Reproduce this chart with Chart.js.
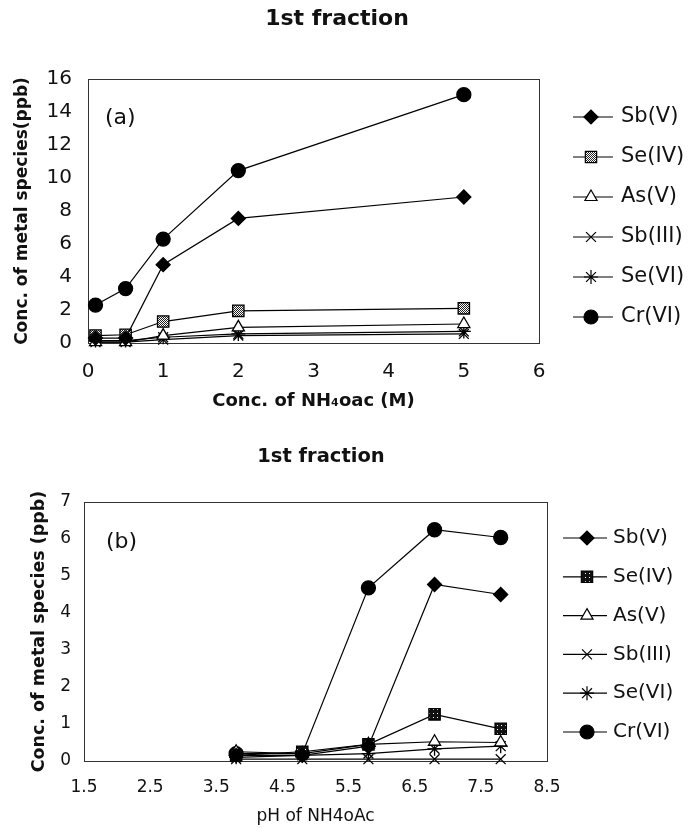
<!DOCTYPE html>
<html>
<head>
<meta charset="utf-8">
<script src="https://cdn.jsdelivr.net/npm/chart.js@4.4.1/dist/chart.umd.min.js"></script>
<style>
    body { margin: 0; background: #fff; width: 690px; height: 828px; position: relative; overflow: hidden; }
    canvas { position: absolute; left: 0; }
    #chartA { top: 0; }
    #chartB { top: 420px; }
</style>
</head>
<body>
<canvas id="chartA" width="690" height="420"></canvas>
<canvas id="chartB" width="690" height="408"></canvas>
<script>
// Species, in legend order
const SPECIES = ['Sb(V)', 'Se(IV)', 'As(V)', 'Sb(III)', 'Se(VI)', 'Cr(VI)'];

// (a) concentration of NH4oAc (M)
const CONC_M = [0.1, 0.5, 1, 2, 5];
const A_SB5 = [0.3, 0.3, 4.75, 7.55, 8.85];
const A_SE4 = [0.45, 0.5, 1.3, 1.95, 2.1];
const A_AS5 = [0.05, 0.05, 0.45, 0.95, 1.15];
const A_SB3 = [0.05, 0.05, 0.2, 0.45, 0.55];
const A_SE6 = [0.15, 0.15, 0.35, 0.55, 0.7];
const A_CR6 = [2.3, 3.3, 6.3, 10.45, 15.05];

// (b) pH of NH4oAc
const PH = [3.8, 4.8, 5.8, 6.8, 7.8];
const B_SB5 = [0.15, 0.15, 0.4, 4.77, 4.5];
const B_SE4 = [0.15, 0.25, 0.45, 1.26, 0.87];
const B_AS5 = [0.25, 0.2, 0.45, 0.52, 0.5];
const B_SB3 = [0.05, 0.05, 0.05, 0.05, 0.05];
const B_SE6 = [0.1, 0.15, 0.2, 0.33, 0.4];
const B_CR6 = [0.2, 0.2, 4.68, 6.25, 6.04];

// Tick labels
const A_X_TICKS = [0, 1, 2, 3, 4, 5, 6];
const B_X_TICKS = ['1.5', '2.5', '3.5', '4.5', '5.5', '6.5', '7.5', '8.5'];

const FONT = '"DejaVu Sans", Verdana, sans-serif';
const INK = '#111';

// Marker style per species
const MARKERS = ['rectRot', 'rect', 'triangle', 'crossRot', 'star', 'circle'];
const RADII = [7, 8, 7, 7, 7, 7];
const FILLS = ['#000', null, '#fff', '#fff', '#000', '#000'];

// Small fill pattern for the Se(IV) squares
function makePattern(target, size, bg, fg, cells) {
    const c = document.createElement('canvas');
    c.width = size; c.height = size;
    const g = c.getContext('2d');
    g.fillStyle = bg;
    g.fillRect(0, 0, size, size);
    g.fillStyle = fg;
    cells.forEach(p => g.fillRect(p[0], p[1], 1, 1));
    return target.getContext('2d').createPattern(c, 'repeat');
}

function buildSets(xs, series, seFill) {
    return series.map((ys, i) => ({
        label: SPECIES[i],
        data: xs.map((x, j) => ({ x: x, y: ys[j] })),
        borderColor: '#000',
        borderWidth: 1.2,
        pointStyle: MARKERS[i],
        pointRadius: RADII[i],
        pointHoverRadius: RADII[i],
        pointBackgroundColor: i === 1 ? seFill : FILLS[i],
        pointBorderColor: '#000',
        pointBorderWidth: 1.3,
        tension: 0,
        clip: false
    }));
}

// Box around the plot area
const framePlugin = {
    id: 'frame',
    beforeDatasetsDraw(chart) {
        const a = chart.chartArea;
        const ctx = chart.ctx;
        ctx.save();
        ctx.strokeStyle = '#333';
        ctx.lineWidth = 1;
        ctx.strokeRect(Math.round(a.left) + 0.5, Math.round(a.top) + 0.5,
            Math.round(a.right - a.left), Math.round(a.bottom - a.top));
        ctx.restore();
    }
};

// Legend on the right: line with marker, then label
const sideLegendPlugin = {
    id: 'sideLegend',
    afterDraw(chart, args, opts) {
        const { ctx, chartArea } = chart;
        ctx.save();
        chart.data.datasets.forEach((ds, i) => {
            const y = chartArea.top + opts.top + i * opts.step;
            const x0 = chartArea.right + opts.lineStart;
            const x1 = chartArea.right + opts.lineEnd;
            const xm = chartArea.right + opts.marker;
            ctx.strokeStyle = '#000';
            ctx.lineWidth = 1.2;
            ctx.beginPath();
            ctx.moveTo(x0, y);
            ctx.lineTo(x1, y);
            ctx.stroke();
            ctx.fillStyle = ds.pointBackgroundColor;
            Chart.helpers.drawPoint(ctx, {
                pointStyle: ds.pointStyle,
                radius: ds.pointRadius,
                rotation: 0,
                borderWidth: 1.3
            }, xm, y);
            ctx.fillStyle = INK;
            ctx.font = opts.font;
            ctx.textAlign = 'left';
            ctx.textBaseline = 'middle';
            ctx.fillText(ds.label, chartArea.right + opts.text, y);
        });
        ctx.restore();
    }
};

// Chart title and panel tag
const captionPlugin = {
    id: 'caption',
    afterDraw(chart, args, opts) {
        const { ctx, chartArea } = chart;
        ctx.save();
        ctx.fillStyle = INK;
        ctx.textBaseline = 'middle';
        ctx.textAlign = 'center';
        ctx.font = opts.titleFont;
        ctx.fillText(opts.title, opts.titleX, opts.titleY);
        ctx.textAlign = 'left';
        ctx.font = opts.tagFont;
        ctx.fillText(opts.tag, chartArea.left + opts.tagDx, chartArea.top + opts.tagDy);
        ctx.restore();
    }
};

Chart.defaults.animation = false;
Chart.defaults.color = INK;
Chart.defaults.font.family = FONT;

// (a) concentration chart
const canvasA = document.getElementById('chartA');
new Chart(canvasA, {
    type: 'line',
    data: {
        datasets: buildSets(CONC_M, [A_SB5, A_SE4, A_AS5, A_SB3, A_SE6, A_CR6],
            makePattern(canvasA, 2, '#fff', '#222', [[0, 0], [1, 1]]))
    },
    options: {
        responsive: false,
        devicePixelRatio: 1,
        events: [],
        layout: { padding: { left: 0, top: 79, right: 151, bottom: 0 } },
        plugins: {
            legend: { display: false },
            tooltip: { enabled: false },
            sideLegend: { top: 38, step: 40, lineStart: 34, marker: 52, lineEnd: 74, text: 82, font: '21px ' + FONT },
            caption: {
                title: '1st fraction', titleX: 337, titleY: 19, titleFont: 'bold 22px ' + FONT,
                tag: '(a)', tagDx: 17, tagDy: 39, tagFont: '22px ' + FONT
            }
        },
        scales: {
            x: {
                type: 'linear',
                min: 0,
                max: 6,
                afterFit: s => { s.height = 77; },
                afterBuildTicks: s => { s.ticks = A_X_TICKS.map(v => ({ value: v })); },
                grid: { display: false, drawTicks: false },
                border: { display: false },
                ticks: { padding: 17, font: { size: 20 }, color: INK },
                title: {
                    display: true,
                    text: 'Conc. of NH\u2084oac (M)',
                    font: { size: 18, weight: 'bold' },
                    padding: { top: 0, bottom: 8 },
                    color: INK
                }
            },
            y: {
                min: 0,
                max: 16,
                afterFit: s => { s.width = 88; },
                grid: { display: false, drawTicks: false },
                border: { display: false },
                ticks: { stepSize: 2, padding: 16, font: { size: 20 }, color: INK },
                title: {
                    display: true,
                    text: 'Conc. of metal species(ppb)',
                    font: { size: 17, weight: 'bold' },
                    padding: { top: 12, bottom: 0 },
                    color: INK
                }
            }
        }
    },
    plugins: [framePlugin, sideLegendPlugin, captionPlugin]
});

// (b) pH chart
const canvasB = document.getElementById('chartB');
new Chart(canvasB, {
    type: 'line',
    data: {
        datasets: buildSets(PH, [B_SB5, B_SE4, B_AS5, B_SB3, B_SE6, B_CR6],
            makePattern(canvasB, 4, '#111', '#fff', [[1, 1]]))
    },
    options: {
        responsive: false,
        devicePixelRatio: 1,
        events: [],
        layout: { padding: { left: 0, top: 82, right: 143, bottom: 0 } },
        plugins: {
            legend: { display: false },
            tooltip: { enabled: false },
            sideLegend: { top: 36, step: 38.8, lineStart: 16, marker: 40, lineEnd: 60, text: 66, font: '20px ' + FONT },
            caption: {
                title: '1st fraction', titleX: 321, titleY: 37, titleFont: 'bold 19.5px ' + FONT,
                tag: '(b)', tagDx: 22, tagDy: 40, tagFont: '22px ' + FONT
            }
        },
        scales: {
            x: {
                type: 'linear',
                min: 1.5,
                max: 8.5,
                afterFit: s => { s.height = 67; },
                afterBuildTicks: s => { s.ticks = B_X_TICKS.map(v => ({ value: parseFloat(v) })); },
                grid: { display: false, drawTicks: false },
                border: { display: false },
                ticks: {
                    padding: 16,
                    font: { size: 17 },
                    color: INK,
                    callback: v => B_X_TICKS.find(t => parseFloat(t) === v)
                },
                title: {
                    display: true,
                    text: 'pH of NH4oAc',
                    font: { size: 17 },
                    padding: { top: 0, bottom: 1 },
                    color: INK
                }
            },
            y: {
                min: 0,
                max: 7,
                afterFit: s => { s.width = 84; },
                grid: { display: false, drawTicks: false },
                border: { display: false },
                ticks: { stepSize: 1, padding: 13, font: { size: 17 }, color: INK },
                title: {
                    display: true,
                    text: 'Conc. of metal species (ppb)',
                    font: { size: 17.5, weight: 'bold' },
                    padding: { top: 29, bottom: 0 },
                    color: INK
                }
            }
        }
    },
    plugins: [framePlugin, sideLegendPlugin, captionPlugin]
});
</script>
</body>
</html>
